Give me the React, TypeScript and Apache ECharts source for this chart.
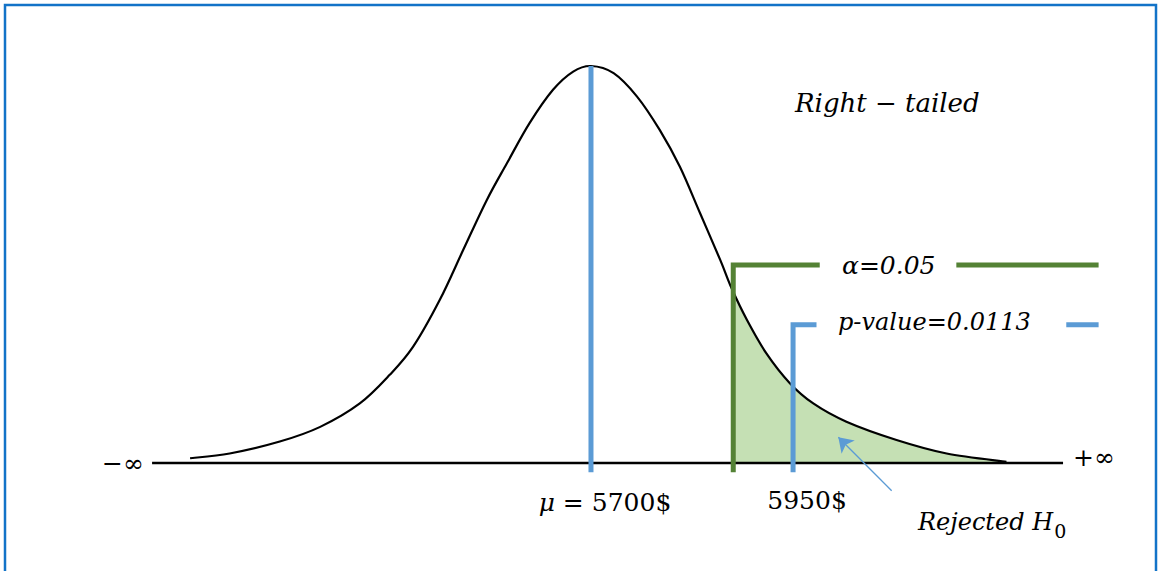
import { useEffect, useRef } from "react";
import * as echarts from "echarts";

// Outline of the sampling distribution: salary ($) and relative density (peak = 1)
const curveX = [5204, 5253, 5315, 5365, 5414, 5451, 5480, 5513, 5542, 5571, 5596, 5624, 5653, 5678, 5700, 5728, 5757, 5785, 5810, 5835, 5860, 5874, 5893, 5917, 5946, 5975, 6016, 6078, 6140, 6214];
const curveY = [0.012, 0.024, 0.054, 0.091, 0.15, 0.222, 0.293, 0.411, 0.537, 0.662, 0.755, 0.856, 0.94, 0.986, 1.0, 0.982, 0.923, 0.839, 0.746, 0.629, 0.511, 0.44, 0.36, 0.276, 0.201, 0.15, 0.104, 0.058, 0.024, 0.003];

// Test quantities
const mu = 5700;
const sampleMean = 5950;
const criticalValue = 5876;
const criticalDensity = 0.432; // height of the curve where the rejection region starts
const alpha = 0.05;
const pValue = 0.0113;

// Ends of the drawn number line ($)
const lineStart = 5157;
const lineEnd = 6284;

const BLUE = "#5B9BD5";
const GREEN = "#548235";
const FILL = "#C5E0B4";
const FONT = "DejaVu Serif";

// Catmull-Rom spline through pixel points, written as cubic Bezier segments
function splinePath(pts: number[][]): string {
  const n = pts.length;
  let d = `M${pts[0][0]},${pts[0][1]}`;
  for (let i = 0; i < n - 1; i++) {
    const p0 = pts[Math.max(i - 1, 0)];
    const p1 = pts[i];
    const p2 = pts[i + 1];
    const p3 = pts[Math.min(i + 2, n - 1)];
    const c1x = p1[0] + (p2[0] - p0[0]) / 6;
    const c1y = p1[1] + (p2[1] - p0[1]) / 6;
    const c2x = p2[0] - (p3[0] - p1[0]) / 6;
    const c2y = p2[1] - (p3[1] - p1[1]) / 6;
    d += ` C${c1x},${c1y} ${c2x},${c2y} ${p2[0]},${p2[1]}`;
  }
  return d;
}

function segment(data: number[][], color: string, width = 5, z = 4) {
  return {
    type: "line",
    data,
    symbol: "none",
    clip: false,
    silent: true,
    z,
    lineStyle: { color, width, cap: "butt", join: "miter" },
  };
}

function label(text: string, x: number, y: number, size: number, italic = false, extra: any = {}) {
  return {
    type: "text",
    silent: true,
    x,
    y,
    style: {
      text,
      fontFamily: FONT,
      fontStyle: italic ? "italic" : "normal",
      fontSize: size,
      fill: "#000",
      verticalAlign: "middle",
      ...extra,
    },
  };
}

export default function App() {
  const ref = useRef<HTMLDivElement>(null);

  useEffect(() => {
    if (!ref.current) return;
    const chart = echarts.init(ref.current, undefined, { renderer: "svg" });

    const curve = curveX.map((x, i) => [x, curveY[i]]);
    const tail = [[criticalValue, criticalDensity]].concat(
      curve.filter((p) => p[0] > criticalValue)
    );
    const foot = -0.023;
    const alphaLevel = 0.499;
    const pLevel = 0.348;

    chart.setOption({
      animation: false,
      backgroundColor: "#ffffff",
      textStyle: { fontFamily: FONT },
      grid: { left: 106, right: 2.2, top: 26.3, bottom: 8.75 },
      xAxis: {
        type: "value",
        min: 5100,
        max: 6400,
        axisLine: { show: false },
        axisTick: { show: false },
        axisLabel: { show: false },
        splitLine: { show: false },
      },
      yAxis: { type: "value", min: -0.25, max: 1.1, show: false },
      series: [
        {
          // rejection region under the right tail
          type: "custom",
          coordinateSystem: "cartesian2d",
          silent: true,
          clip: false,
          z: 1,
          data: [[criticalValue, criticalDensity]],
          renderItem: (_params: any, api: any) => {
            const pts = tail.map((p) => api.coord(p));
            const base = api.coord([0, 0])[1];
            const last = pts[pts.length - 1];
            const d = `${splinePath(pts)} L${last[0]},${base} L${pts[0][0]},${base} Z`;
            return { type: "path", shape: { pathData: d }, style: { fill: FILL, stroke: "none" } };
          },
        },
        segment([[lineStart, 0], [lineEnd, 0]], "#000", 2.5, 2),
        {
          // density curve
          type: "custom",
          coordinateSystem: "cartesian2d",
          silent: true,
          clip: false,
          z: 3,
          data: [[mu, 1]],
          renderItem: (_params: any, api: any) => {
            const pts = curve.map((p) => api.coord(p));
            return {
              type: "path",
              shape: { pathData: splinePath(pts) },
              style: { fill: "none", stroke: "#000", lineWidth: 2.2, lineJoin: "round" },
            };
          },
        },
        segment([[mu, foot], [mu, 1.0]], BLUE),
        segment([[criticalValue, foot], [criticalValue, alphaLevel], [5983, alphaLevel]], GREEN),
        segment([[6152, alphaLevel], [6328, alphaLevel]], GREEN),
        segment([[sampleMean, foot], [sampleMean, pLevel], [5979, pLevel]], BLUE),
        segment([[6288, pLevel], [6328, pLevel]], BLUE),
        {
          type: "lines",
          coordinateSystem: "cartesian2d",
          silent: true,
          z: 5,
          symbol: ["none", "arrow"],
          symbolSize: [10, 14],
          lineStyle: { color: BLUE, width: 1.3, opacity: 1 },
          data: [{ coords: [[6072, -0.07], [6006, 0.065]] }],
        },
      ],
    });

    // Value labels sit under the foot of their marker lines
    const [muX, footY] = chart.convertToPixel({ gridIndex: 0 }, [mu, foot]) as number[];
    const [meanX] = chart.convertToPixel({ gridIndex: 0 }, [sampleMean, foot]) as number[];

    chart.setOption({
      graphic: [
        {
          type: "rect",
          silent: true,
          shape: { x: 5, y: 5, width: 1151, height: 620 },
          style: { fill: "none", stroke: "#1273C8", lineWidth: 2.5 },
        },
        label(`{i|μ} = ${mu}$`, muX + 14, footY + 30, 25, false, {
          align: "center",
          rich: { i: { fontStyle: "italic", fontSize: 25, fontFamily: FONT, fill: "#000" } },
        }),
        label(`${sampleMean}$`, meanX + 14, footY + 28, 25, false, { align: "center" }),
        label("Right − tailed", 795, 103, 26, true),
        label(`α=${alpha.toFixed(2)}`, 842, 265, 25, true),
        label(`p-value=${pValue}`, 838, 322, 24, true),
        label("−∞", 102, 463, 25),
        label("+∞", 1073, 457, 25),
        {
          type: "text",
          silent: true,
          x: 918,
          y: 524,
          style: {
            text: "{r|Rejected H}{s|0}",
            fill: "#000",
            verticalAlign: "middle",
            rich: {
              r: { fontFamily: FONT, fontStyle: "italic", fontSize: 24, fill: "#000", lineHeight: 32, verticalAlign: "top", padding: [2, 0, 0, 0] },
              s: { fontFamily: FONT, fontSize: 19, fill: "#000", verticalAlign: "bottom", padding: [0, 0, 0, 1] },
            },
          },
        },
      ],
    });

    return () => chart.dispose();
  }, []);

  return (
    <div
      ref={ref}
      style={{ position: "fixed", left: 0, top: 0, width: 1159, height: 571, background: "#fff" }}
    />
  );
}
